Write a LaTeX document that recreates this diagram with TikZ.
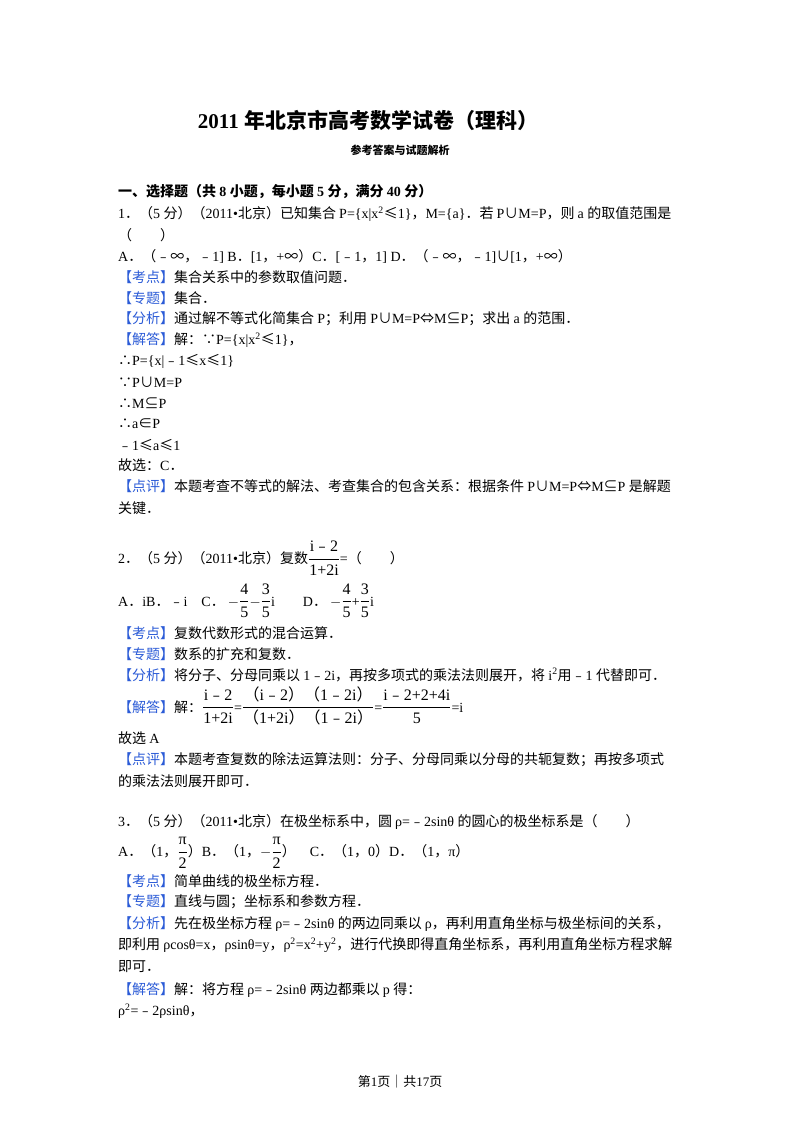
\documentclass[tikz,border=0pt]{standalone}
\usepackage{amsmath}
\usepackage{fontspec}
\setmainfont{Liberation Serif}
\newfontfamily\zhR{Noto Sans CJK SC}
\XeTeXinterchartokenstate=1
\chardef\zhclass=1
\makeatletter
\def\setzhrange#1#2{\count@=#1\relax\loop\XeTeXcharclass\count@=\zhclass\ifnum\count@<#2\advance\count@ by 1\repeat}
\makeatother
\setzhrange{"4E00}{"9FFF}
\setzhrange{"3000}{"303F}
\setzhrange{"FF00}{"FFEF}
\setzhrange{"FE30}{"FE6F}
\setzhrange{"2200}{"22FF}
\XeTeXcharclass"21D4=\zhclass
\XeTeXinterchartoks 0 \zhclass = {\zhR}
\XeTeXinterchartoks 4095 \zhclass = {\zhR}
\XeTeXinterchartoks \zhclass 0 = {\rmfamily}
\XeTeXinterchartoks 4095 0 = {\rmfamily}
\definecolor{lab}{HTML}{2B5BD7}
\newcommand{\lb}[1]{\textcolor{lab}{【#1】}}
\newcommand{\fr}[2]{$\dfrac{\mbox{#1}}{\mbox{#2}}$}
\newcommand{\bfr}[2]{{\fontsize{16}{18}\selectfont$\dfrac{\mbox{#1}}{\mbox{#2}}$}}
\tikzset{t/.style={anchor=west,inner sep=0pt,font=\fontsize{14}{17}\selectfont},
 c/.style={anchor=center,inner sep=0pt}}
\begin{document}
\begin{tikzpicture}[x=1pt,y=-1pt]
\useasboundingbox (0,0) rectangle (800,1132);
\fill[white] (0,0) rectangle (800,1132);
\node[c,font=\fontsize{21}{24}\selectfont\bfseries] (title) at (368,120) {2011 年北京市高考数学试卷（理科）};
\node[c,font=\fontsize{11}{13}\selectfont\bfseries] (sub) at (400,150) {参考答案与试题解析};
\node[t,font=\fontsize{14}{17}\selectfont\bfseries] (sec) at (118,192) {一、选择题（共 8 小题，每小题 5 分，满分 40 分）};
\node[t] (a1) at (118,214) {1．（5 分）（2011•北京）已知集合 P=\{x|x\textsuperscript{2}≤1\}，M=\{a\}．若 P∪M=P，则 a 的取值范围是};
\node[t] (a2) at (118,235) {（　　）};
\node[t] (a3) at (118,256) {A．（﹣∞，﹣1] B．[1，+∞）C．[﹣1，1] D．（﹣∞，﹣1]∪[1，+∞）};
\node[t] (a4) at (118,277) {\lb{考点}集合关系中的参数取值问题．};
\node[t] (a5) at (118,298) {\lb{专题}集合．};
\node[t] (a6) at (118,319) {\lb{分析}通过解不等式化简集合 P；利用 P∪M=P⇔M⊆P；求出 a 的范围．};
\node[t] (a7) at (118,340) {\lb{解答}解：∵P=\{x|x\textsuperscript{2}≤1\}，};
\node[t] (a8) at (118,361) {∴P=\{x|﹣1≤x≤1\}};
\node[t] (a9) at (118,382) {∵P∪M=P};
\node[t] (a10) at (118,403) {∴M⊆P};
\node[t] (a11) at (118,424) {∴a∈P};
\node[t] (a12) at (118,445) {﹣1≤a≤1};
\node[t] (a13) at (118,465) {故选：C．};
\node[t] (a14) at (118,486) {\lb{点评}本题考查不等式的解法、考查集合的包含关系：根据条件 P∪M=P⇔M⊆P 是解题};
\node[t] (a15) at (118,508) {关键．};
%
\node[t] (b1) at (118,558) {2．（5 分）（2011•北京）复数\bfr{i﹣2}{1+2i}=（　　）};
\node[t] (b2) at (118,601) {A．iB．﹣i　C．\ $-$\bfr{4}{5}$-$\bfr{3}{5}i　　D．\ $-$\bfr{4}{5}+\bfr{3}{5}i};
\node[t] (b3) at (118,633) {\lb{考点}复数代数形式的混合运算．};
\node[t] (b4) at (118,654) {\lb{专题}数系的扩充和复数．};
\node[t] (b5) at (118,675) {\lb{分析}将分子、分母同乘以 1﹣2i，再按多项式的乘法法则展开，将 i\textsuperscript{2}用﹣1 代替即可．};
\node[t] (b6) at (118,706) {\lb{解答}解：\bfr{i﹣2}{1+2i}=\bfr{（i﹣2）（1﹣2i）}{（1+2i）（1﹣2i）}=\bfr{i﹣2+2+4i}{5}=i};
\node[t] (b7) at (118,738) {故选 A};
\node[t] (b8) at (118,760) {\lb{点评}本题考查复数的除法运算法则：分子、分母同乘以分母的共轭复数；再按多项式};
\node[t] (b9) at (118,781) {的乘法法则展开即可．};
%
\node[t] (c1) at (118,822) {3．（5 分）（2011•北京）在极坐标系中，圆 ρ=﹣2sinθ 的圆心的极坐标系是（　　）};
\node[t] (c2) at (118,853) {A．（1，\bfr{π}{2}）B．（1，$-$\bfr{π}{2}）　C．（1，0）D．（1，π）};
\node[t] (c3) at (118,881) {\lb{考点}简单曲线的极坐标方程．};
\node[t] (c4) at (118,902) {\lb{专题}直线与圆；坐标系和参数方程．};
\node[t] (c5) at (118,924) {\lb{分析}先在极坐标方程 ρ=﹣2sinθ 的两边同乘以 ρ，再利用直角坐标与极坐标间的关系，};
\node[t] (c6) at (118,945) {即利用 ρcosθ=x，ρsinθ=y，ρ\textsuperscript{2}=x\textsuperscript{2}+y\textsuperscript{2}，进行代换即得直角坐标系，再利用直角坐标方程求解};
\node[t] (c7) at (118,967) {即可．};
\node[t] (c8) at (118,990) {\lb{解答}解：将方程 ρ=﹣2sinθ 两边都乘以 p 得：};
\node[t] (c9) at (118,1011) {ρ\textsuperscript{2}=﹣2ρsinθ，};
\node[c,font=\fontsize{13}{15}\selectfont] (foot) at (400,1082) {第1页｜共17页};
\end{tikzpicture}
\end{document}
